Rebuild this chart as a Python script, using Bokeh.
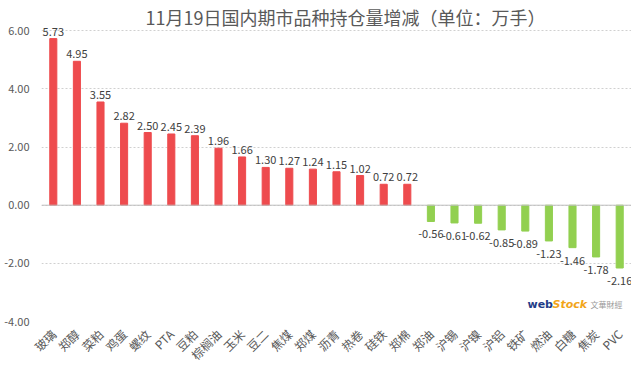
from bokeh.plotting import figure
from bokeh.models import ColumnDataSource, Range1d, LabelSet, Span, Label, FactorRange, CustomJSTickFormatter
from bokeh.embed import file_html
from bokeh.resources import INLINE
from bokeh.core.properties import value
import math

categories = ["玻璃", "郑醇", "菜粕", "鸡蛋", "螺纹", "PTA", "豆粕", "棕榈油", "玉米", "豆二",
              "焦煤", "郑煤", "沥青", "热卷", "硅铁", "郑棉", "郑油", "沪锡", "沪镍", "沪铝",
              "铁矿", "燃油", "白糖", "焦炭", "PVC"]
changes = [5.73, 4.95, 3.55, 2.82, 2.50, 2.45, 2.39, 1.96, 1.66, 1.30,
           1.27, 1.24, 1.15, 1.02, 0.72, 0.72, -0.56, -0.61, -0.62, -0.85,
           -0.89, -1.23, -1.46, -1.78, -2.16]
y_ticks = [-4, -2, 0, 2, 4, 6]

FONT = "Noto Sans CJK SC"
RED = "#EE4B4E"
GREEN = "#92D050"

colors = [RED if v >= 0 else GREEN for v in changes]
labels = ["%.2f" % v for v in changes]
src = ColumnDataSource(dict(cat=categories, val=changes, color=colors, label=labels))
pos_idx = [i for i, v in enumerate(changes) if v >= 0]
neg_idx = [i for i, v in enumerate(changes) if v < 0]
src_pos = ColumnDataSource(dict(cat=[categories[i] for i in pos_idx],
                                val=[changes[i] for i in pos_idx],
                                label=[labels[i] for i in pos_idx]))
src_neg = ColumnDataSource(dict(cat=[categories[i] for i in neg_idx],
                                val=[changes[i] for i in neg_idx],
                                label=[labels[i] for i in neg_idx]))

p = figure(frame_width=590, frame_height=314, x_range=FactorRange(*categories, range_padding=0),
           y_range=Range1d(-4, 6.8), output_backend="svg", toolbar_location=None,
           min_border_left=41, min_border_right=0, min_border_bottom=42, min_border_top=7)

p.vbar(x="cat", top="val", bottom=0, width=0.3, color="color", source=src)

p.add_layout(LabelSet(x="cat", y="val", text="label", source=src_pos, text_align="center",
                      text_baseline="bottom", y_offset=3, text_font=value(FONT),
                      text_font_size="11px", text_color="#404040"))
p.add_layout(LabelSet(x="cat", y="val", text="label", source=src_neg, text_align="center",
                      text_baseline="top", y_offset=-9, text_font=value(FONT),
                      text_font_size="11px", text_color="#404040"))

p.add_layout(Span(location=0, dimension="width", line_color="#BFBFBF", line_width=1))

p.yaxis.ticker = y_ticks
p.yaxis.formatter = CustomJSTickFormatter(code="return tick.toFixed(2);")
p.yaxis.axis_line_color = None
p.yaxis.major_tick_line_color = None
p.yaxis.minor_tick_line_color = None
p.yaxis.major_label_text_font = FONT
p.yaxis.major_label_text_font_size = "11px"
p.yaxis.major_label_text_color = "#595959"
p.yaxis.major_label_standoff = 6

p.xaxis.axis_line_color = None
p.xaxis.major_tick_line_color = None
p.xaxis.minor_tick_line_color = None
p.xaxis.major_label_orientation = math.pi / 4
p.xaxis.major_label_text_font = FONT
p.xaxis.major_label_text_font_size = "12px"
p.xaxis.major_label_text_color = "#595959"
p.xaxis.major_label_standoff = 4

p.xgrid.grid_line_color = None
p.ygrid.grid_line_color = "#D0D0D0"
p.ygrid.grid_line_dash = "2 2"
p.ygrid.ticker = y_ticks

p.outline_line_color = None
p.background_fill_color = "white"
p.border_fill_color = "white"

# title drawn inside the frame area, above the 6.00 line
p.add_layout(Label(x=304, y=292, x_units="screen", y_units="screen",
                   text="11月19日国内期市品种持仓量增减（单位：万手）",
                   text_align="center", text_baseline="bottom",
                   text_font=FONT, text_font_size="18px", text_color="#595959"))

# logo
p.add_layout(Label(x=486, y=11, x_units="screen", y_units="screen", text="web",
                   text_font="DejaVu Sans", text_font_size="11px", text_font_style="bold",
                   text_color="#1F3C88"))
p.add_layout(Label(x=511, y=11, x_units="screen", y_units="screen", text="Stock",
                   text_font="DejaVu Sans", text_font_size="11px", text_font_style="bold italic",
                   text_color="#F2A51A"))
p.add_layout(Label(x=549, y=12, x_units="screen", y_units="screen", text="文華財經",
                   text_font=FONT, text_font_size="8px", text_color="#9A9A9A"))

open("out.html", "w").write(file_html(p, INLINE))
